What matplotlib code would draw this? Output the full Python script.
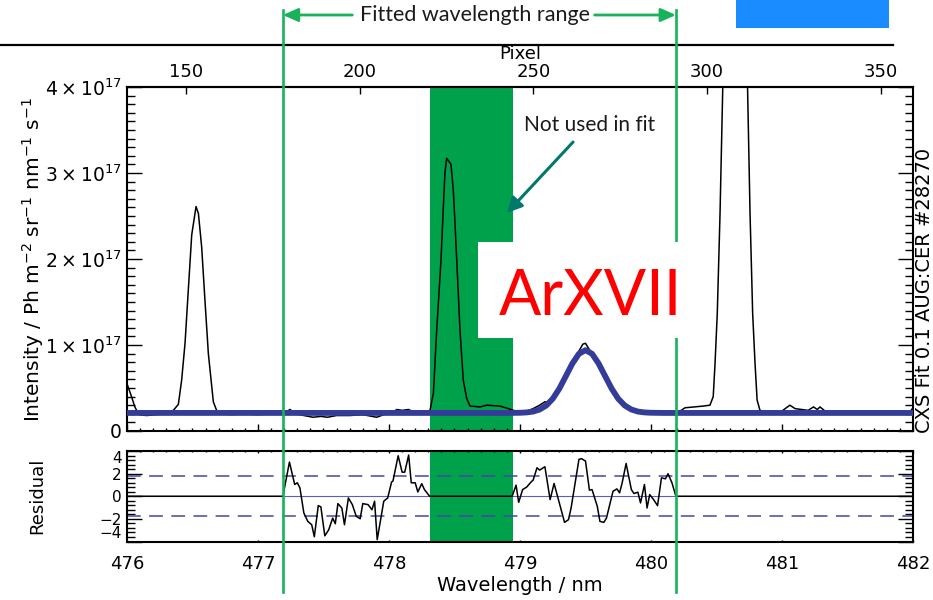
import matplotlib
matplotlib.use("Agg")
import matplotlib.pyplot as plt
import matplotlib.transforms as mtransforms
from matplotlib.lines import Line2D
from matplotlib.patches import Rectangle
from matplotlib.ticker import MultipleLocator, FuncFormatter

plt.rcParams['font.family'] = 'DejaVu Sans'
plt.rcParams['mathtext.fontset'] = 'dejavusans'

# measured spectrum: wavelength (nm), intensity (1e17 Ph m-2 sr-1 nm-1 s-1)
wl = [476.00, 476.03, 476.06, 476.09, 476.15, 476.22, 476.30, 476.354, 476.392, 476.417,
      476.443, 476.468, 476.494, 476.527, 476.545, 476.570, 476.595, 476.621, 476.659, 476.684,
      476.72, 476.80, 476.90, 477.00, 477.10, 477.20, 477.245, 477.28, 477.35, 477.42,
      477.48, 477.53, 477.60, 477.70, 477.80, 477.906, 477.96, 478.02, 478.06, 478.10,
      478.15, 478.20, 478.26, 478.313, 478.339, 478.364, 478.397, 478.415, 478.427, 478.44,
      478.46, 478.473, 478.491, 478.504, 478.517, 478.542, 478.567, 478.593, 478.618, 478.695,
      478.746, 478.847, 478.911, 478.95, 479.00, 479.05, 479.10, 479.15, 479.19, 479.23,
      479.28, 479.34, 479.39, 479.45, 479.48, 479.50, 479.52, 479.56, 479.61, 479.66,
      479.71, 479.76, 479.81, 479.85, 479.90, 479.95, 480.02, 480.08, 480.13, 480.20,
      480.26, 480.33, 480.40, 480.45, 480.475, 480.489, 480.506, 480.527, 480.55, 480.60,
      480.64, 480.69, 480.735, 480.756, 480.776, 480.794, 480.81, 480.832, 480.90, 480.98,
      481.06, 481.10, 481.15, 481.20, 481.24, 481.27, 481.29, 481.33, 481.40, 481.50,
      481.60, 481.66, 481.70, 481.80, 481.90, 481.97, 482.00]
intensity = [0.55, 0.42, 0.28, 0.19, 0.18, 0.19, 0.20, 0.24, 0.31, 0.59,
             1.02, 1.64, 2.28, 2.61, 2.53, 2.14, 1.52, 0.90, 0.34, 0.24,
             0.20, 0.19, 0.20, 0.19, 0.20, 0.21, 0.25, 0.20, 0.18, 0.16,
             0.17, 0.16, 0.18, 0.18, 0.19, 0.16, 0.19, 0.21, 0.25, 0.24,
             0.25, 0.21, 0.20, 0.24, 0.44, 1.17, 1.99, 2.61, 3.00, 3.17,
             3.13, 3.10, 2.80, 2.41, 1.99, 1.17, 0.59, 0.38, 0.29, 0.28,
             0.30, 0.29, 0.26, 0.24, 0.22, 0.23, 0.26, 0.30, 0.34, 0.33,
             0.41, 0.58, 0.76, 0.93, 1.01, 1.02, 0.97, 0.87, 0.74, 0.60,
             0.48, 0.37, 0.31, 0.25, 0.23, 0.22, 0.21, 0.22, 0.22, 0.21,
             0.27, 0.28, 0.29, 0.30, 0.40, 0.79, 1.37, 2.53, 4.15, 7.00,
             7.80, 7.00, 4.15, 2.53, 1.37, 0.79, 0.36, 0.24, 0.21, 0.21,
             0.30, 0.26, 0.25, 0.24, 0.28, 0.25, 0.28, 0.23, 0.21, 0.20,
             0.20, 0.23, 0.20, 0.20, 0.20, 0.21, 0.27]

# fitted model (ArXVII line on flat background)
fit_wl = [476.00, 478.90, 478.95, 479.00, 479.05, 479.10, 479.15, 479.20, 479.25, 479.30,
          479.35, 479.40, 479.45, 479.50, 479.55, 479.60, 479.65, 479.70, 479.75, 479.80,
          479.85, 479.90, 479.95, 480.00, 480.05, 480.10, 482.00]
fit_int = [0.210, 0.210, 0.211, 0.212, 0.216, 0.226, 0.250, 0.296, 0.375, 0.492,
           0.638, 0.785, 0.898, 0.940, 0.898, 0.785, 0.638, 0.492, 0.375, 0.296,
           0.250, 0.226, 0.216, 0.212, 0.211, 0.210, 0.210]

# normalised residual
res_wl = [476.00, 477.19, 477.24, 477.28, 477.30, 477.32, 477.35, 477.38, 477.41, 477.43,
          477.46, 477.48, 477.51, 477.54, 477.57, 477.59, 477.61, 477.64, 477.66, 477.69,
          477.72, 477.75, 477.78, 477.80, 477.84, 477.87, 477.89, 477.91, 477.96, 477.99,
          478.02, 478.03, 478.07, 478.10, 478.12, 478.15, 478.17, 478.20, 478.22, 478.25,
          478.27, 478.31, 478.94, 478.97, 478.99, 479.02, 479.05, 479.09, 479.10, 479.13,
          479.15, 479.19, 479.23, 479.26, 479.29, 479.34, 479.37, 479.39, 479.45, 479.47,
          479.50, 479.53, 479.55, 479.59, 479.61, 479.64, 479.66, 479.71, 479.74, 479.76,
          479.78, 479.81, 479.85, 479.87, 479.90, 479.92, 479.95, 479.97, 479.99, 480.02,
          480.05, 480.08, 480.11, 480.13, 480.16, 480.19, 482.00]
res_val = [0.00, 0.00, 3.02, 1.04, 1.19, 0.74, -1.48, -2.22, -2.52, -3.58,
           -0.83, -0.94, -3.50, -2.96, -1.93, -2.43, -0.65, -1.04, -2.52, -0.15,
           -0.74, -1.77, -1.99, -0.65, -0.74, -1.19, -0.44, -3.84, -0.44, -0.15,
           1.27, 1.33, 3.58, 2.13, 2.13, 3.64, 1.19, 1.19, 0.38, 1.11,
           0.60, 0.00, 0.00, 0.98, -0.54, 0.59, 0.80, 1.33, 1.42, 2.52,
           2.31, 2.61, -0.30, 1.13, -0.15, -2.31, -2.07, -1.04, 3.26, 3.32,
           3.11, 0.54, 0.59, -0.89, -2.22, -2.31, -1.93, 0.44, 0.65, 0.30,
           1.19, 2.90, 0.59, 0.24, 0.36, -0.59, 1.04, -1.04, 0.15, -0.30,
           -0.83, 1.63, 1.54, 1.99, 1.19, 0.00, 0.00]

fit_range = (477.19, 480.19)
excluded = (478.31, 478.95)
res_limit = 1.75
pixel_ticks = [150, 200, 250, 300, 350]

band_green = '#00a14b'
line_green = '#17b25a'
navy = '#343c99'


def wl_to_pix(x):
    return 133.0 + (x - 476.0) * 37.725


def pix_to_wl(p):
    return 476.0 + (p - 133.0) / 37.725


def sci_label(v, pos):
    if abs(v) < 1e-9:
        return '0'
    return '%d\u2009\u00d7\u200910$^{17}$' % round(v)


fig = plt.figure(figsize=(9.33, 6.0), dpi=100)
W, H = 933.0, 600.0
ax = fig.add_axes([127 / W, 169 / H, 786 / W, 344 / H])
axr = fig.add_axes([127 / W, 58.5 / H, 786 / W, 90.5 / H])

# --- spectrum panel ---
ax.axvspan(*excluded, color=band_green, lw=0, zorder=1)
ax.plot(wl, intensity, color='black', lw=1.1, zorder=2)
ax.plot(fit_wl, fit_int, color=navy, lw=4.2, solid_joinstyle='round', zorder=3)
ax.set_xlim(476, 482)
ax.set_ylim(0, 4)
ax.yaxis.set_major_locator(MultipleLocator(1))
ax.yaxis.set_minor_locator(MultipleLocator(0.1))
ax.xaxis.set_major_locator(MultipleLocator(1))
ax.xaxis.set_minor_locator(MultipleLocator(0.1))
ax.yaxis.set_major_formatter(FuncFormatter(sci_label))
ax.tick_params(axis='y', which='major', direction='in', length=10.8, width=1,
               right=True, labelsize=13.5, pad=4)
ax.tick_params(axis='y', which='minor', direction='in', length=5.8, width=1, right=True)
ax.tick_params(axis='x', which='major', direction='in', length=5, width=1,
               top=False, labelbottom=False)
ax.tick_params(axis='x', which='minor', direction='in', length=2.5, width=1, top=False)
for s in ax.spines.values():
    s.set_linewidth(1.5)
ax.set_ylabel(r'Intensity / Ph m$^{-2}$ sr$^{-1}$ nm$^{-1}$ s$^{-1}$', fontsize=14.5)
ax.yaxis.set_label_coords(-0.103, 0.5)

secax = ax.secondary_xaxis('top', functions=(wl_to_pix, pix_to_wl))
secax.set_xticks(pixel_ticks)
secax.tick_params(direction='in', length=5, width=1, labelsize=13, pad=4)
secax.set_xlabel('Pixel', fontsize=13, labelpad=3)
secax.spines['top'].set_linewidth(1.5)

# --- residual panel ---
axr.axvspan(*excluded, color=band_green, lw=0, zorder=1)
axr.axhline(0, color='#5c5cc8', lw=0.8, zorder=2)
for lvl in (res_limit, -res_limit):
    axr.axhline(lvl, color='#4646a6', lw=1.1, ls=(0, (9, 5.5)), zorder=2)
axr.plot(res_wl, res_val, color='black', lw=1.1, zorder=3)
axr.set_xlim(476, 482)
axr.set_ylim(-4, 4)
axr.set_yticks([-4, -2, 0, 2, 4])
ylabs = axr.set_yticklabels(['\u22124', '\u22122', '0', '2', '4'])
ylabs[0].set_va('bottom')
ylabs[-1].set_va('top')
axr.yaxis.set_minor_locator(MultipleLocator(0.4))
axr.xaxis.set_major_locator(MultipleLocator(1))
axr.xaxis.set_minor_locator(MultipleLocator(0.1))
axr.tick_params(axis='y', which='major', direction='in', length=10.8, width=1,
                right=True, labelsize=11, pad=4)
axr.tick_params(axis='y', which='minor', direction='in', length=5.8, width=1, right=True)
axr.tick_params(axis='x', which='major', direction='in', length=1.5, width=1,
                top=True, labelsize=13, pad=10)
axr.tick_params(axis='x', which='minor', direction='in', length=0.8, width=1, top=True)
for s in axr.spines.values():
    s.set_linewidth(1.5)
axr.set_xlabel('Wavelength / nm', fontsize=14, labelpad=2)
axr.set_ylabel('Residual', fontsize=13)
axr.yaxis.set_label_coords(-0.103, 0.5)

# --- annotations ---
blend = mtransforms.blended_transform_factory(ax.transData, fig.transFigure)
for x0 in fit_range:
    fig.add_artist(Line2D([x0, x0], [1 - 10 / H, 1 - 592 / H], transform=blend,
                          color=line_green, lw=1.9, zorder=5))

fig.add_artist(Rectangle((478.68, 1.081), 480.23 - 478.68, 2.198 - 1.081,
                         transform=ax.transData, facecolor='white',
                         edgecolor='none', zorder=6))
fig.text(478.84, 1.35, 'ArXVII', transform=ax.transData, color='red',
         fontsize=45, family='Lato', ha='left', va='baseline', zorder=7)

ytop = 1 - 15 / H
ax.text(478.66, ytop, 'Fitted wavelength range', transform=blend, ha='center',
        va='center', fontsize=15.5, family='Lato', color='#1a1a1a')
arrow_kw = dict(arrowstyle='-|>,head_length=0.9,head_width=0.4', color=line_green,
                lw=2, shrinkA=0, shrinkB=0)
ax.annotate('', xy=(fit_range[0], ytop), xycoords=blend, xytext=(477.72, ytop),
            textcoords=blend, arrowprops=arrow_kw, annotation_clip=False)
ax.annotate('', xy=(fit_range[1], ytop), xycoords=blend, xytext=(479.57, ytop),
            textcoords=blend, arrowprops=arrow_kw, annotation_clip=False)

ax.text(479.53, 3.56, 'Not used in fit', ha='center', va='center', fontsize=15,
        family='Lato', color='#1a1a1a', zorder=4)
ax.annotate('', xy=(478.90, 2.535), xytext=(479.405, 3.36),
            arrowprops=dict(arrowstyle='-|>,head_length=0.9,head_width=0.45',
                            color='#00786c', lw=2.2, shrinkA=0, shrinkB=0), zorder=4)

fig.text(925 / W, 1 - 290 / H, 'CXS Fit 0.1 AUG:CER #28270', rotation=90,
         ha='center', va='center', fontsize=14)

fig.add_artist(Rectangle((736 / W, 1 - 28 / H), 153 / W, 28 / H,
                         transform=fig.transFigure, facecolor='#1a8cff',
                         edgecolor='none'))
fig.add_artist(Line2D([0, 893 / W], [1 - 45 / H, 1 - 45 / H],
                      transform=fig.transFigure, color='black', lw=1.6))

fig.savefig('out.png', dpi=100)
